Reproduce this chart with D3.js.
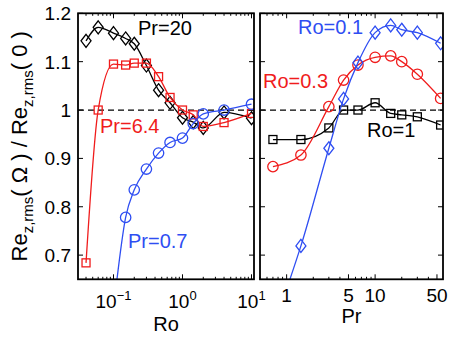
<!DOCTYPE html>
<html>
<head>
<meta charset="utf-8">
<script src="https://cdn.jsdelivr.net/npm/d3@7"></script>
<style>
body { margin: 0; background: #fff; }
text { font-family: Arial, "Liberation Sans", Helvetica, sans-serif; }
</style>
</head>
<body>
<script>
// ---- data ----
// left panel: ratio vs Ro
const RO = [0.04, 0.06, 0.1, 0.15, 0.2, 0.3, 0.45, 0.66, 1, 1.43, 2, 4, 10];
const PR20_VALS = [1.143, 1.171, 1.159, 1.148, 1.137, 1.092, 1.041, 1.015, 0.984, 0.975, 0.963, 0.995, 0.983];
const PR64_VALS = [0.684, 1.0, 1.095, 1.093, 1.097, 1.097, 1.069, 1.026, 1.0, 0.99, 0.966, 0.974, 0.993];
const RO_PR07 = [0.15, 0.2, 0.3, 0.45, 0.66, 1, 1.43, 2, 4, 10];
const PR07_VALS = [0.778, 0.835, 0.878, 0.911, 0.933, 0.942, 0.972, 0.992, 1.0, 1.012];
const PR07_LEAD = [0.106, 0.62];   // line continues below the axis

// right panel: ratio vs Pr
const PR = [0.7, 1.45, 3, 4.4, 6.4, 10, 15, 20, 30, 55];
const PR_RO01 = [1.45, 3, 4.4, 6.4, 10, 15, 20, 30, 55];
const RO01_VALS = [0.719, 0.921, 1.023, 1.098, 1.16, 1.175, 1.166, 1.16, 1.138];
const RO01_LEAD = [1.0, 0.63];
const RO03_VALS = [0.883, 0.907, 1.007, 1.062, 1.093, 1.109, 1.112, 1.1, 1.074, 1.024];
const RO1_VALS = [0.939, 0.939, 0.963, 1.0, 1.0, 1.015, 0.993, 0.99, 0.986, 0.969];

const Y_TICKS = [0.7, 0.8, 0.9, 1, 1.1, 1.2];
const Y_LABELS = ['0.7', '0.8', '0.9', '1', '1.1', '1.2'];
const RO_TICKS = [0.1, 1, 10];
const RO_EXPS = ['\u22121', '0', '1'];
const PR_TICKS = [1, 5, 10, 50];

// ---- layout ----
const WIDTH = 450, HEIGHT = 339;
const TOP = 13.3, BOTTOM = 279.3;
const LEFT_P = {x0: 78, x1: 254};
const RIGHT_P = {x0: 260, x1: 443};

const BLUE = '#2f4ef2';
const RED = '#f01c1c';
const BLACK = '#000';

const svg = d3.select('body').append('svg')
    .attr('width', WIDTH)
    .attr('height', HEIGHT);

const yscale = d3.scaleLinear().domain([0.65, 1.2]).range([BOTTOM, TOP]);
const xRo = d3.scaleLog().domain([0.0306, 10.87]).range([LEFT_P.x0, LEFT_P.x1]);
const xPr = d3.scaleLog().domain([0.5, 58.5]).range([RIGHT_P.x0, RIGHT_P.x1]);

// clip paths
const defs = svg.append('defs');
defs.append('clipPath').attr('id', 'clipL').append('rect')
    .attr('x', LEFT_P.x0).attr('y', TOP)
    .attr('width', LEFT_P.x1 - LEFT_P.x0).attr('height', BOTTOM - TOP);
defs.append('clipPath').attr('id', 'clipR').append('rect')
    .attr('x', RIGHT_P.x0).attr('y', TOP)
    .attr('width', RIGHT_P.x1 - RIGHT_P.x0).attr('height', BOTTOM - TOP);

// ticks for one panel (inward, on all four sides)
function drawTicks(xs, majors, P) {
    const g = svg.append('g');
    const minors = xs.ticks().filter(t => !majors.some(m => Math.abs(m - t) / m < 1e-6));
    minors.forEach(t => {
        const x = xs(t);
        g.append('line').attr('x1', x).attr('x2', x).attr('y1', BOTTOM).attr('y2', BOTTOM - 2.5);
        g.append('line').attr('x1', x).attr('x2', x).attr('y1', TOP).attr('y2', TOP + 2.5);
    });
    majors.forEach(t => {
        const x = xs(t);
        g.append('line').attr('x1', x).attr('x2', x).attr('y1', BOTTOM).attr('y2', BOTTOM - 5);
        g.append('line').attr('x1', x).attr('x2', x).attr('y1', TOP).attr('y2', TOP + 5);
    });
    Y_TICKS.forEach(t => {
        const y = yscale(t);
        g.append('line').attr('x1', P.x0).attr('x2', P.x0 + 5).attr('y1', y).attr('y2', y);
        g.append('line').attr('x1', P.x1).attr('x2', P.x1 - 5).attr('y1', y).attr('y2', y);
    });
    g.selectAll('line').attr('stroke', '#000').attr('stroke-width', 1);
}
drawTicks(xRo, RO_TICKS, LEFT_P);
drawTicks(xPr, PR_TICKS, RIGHT_P);

// dashed reference line at 1
[[LEFT_P, 'clipL'], [RIGHT_P, 'clipR']].forEach(([P, c]) => {
    svg.append('line')
        .attr('x1', P.x0).attr('x2', P.x1)
        .attr('y1', yscale(1)).attr('y2', yscale(1))
        .attr('stroke', '#000').attr('stroke-width', 1.2)
        .attr('stroke-dasharray', '6,4');
});

// series drawing
function drawSeries(xs, clip, xv, yv, lead, color, marker) {
    const pts = xv.map((x, i) => [x, yv[i]]);
    const linePts = lead ? [lead].concat(pts) : pts;
    const line = d3.line()
        .x(d => xs(d[0]))
        .y(d => yscale(d[1]))
        .curve(d3.curveMonotoneX);
    const g = svg.append('g').attr('clip-path', 'url(#' + clip + ')');
    g.append('path')
        .attr('d', line(linePts))
        .attr('fill', 'none')
        .attr('stroke', color)
        .attr('stroke-width', 1.3);

    const m = g.selectAll('.m').data(pts).enter();
    if (marker === 'circle') {
        m.append('circle')
            .attr('cx', d => xs(d[0])).attr('cy', d => yscale(d[1]))
            .attr('r', 5.2);
    } else if (marker === 'square') {
        m.append('rect')
            .attr('x', d => xs(d[0]) - 4).attr('y', d => yscale(d[1]) - 4)
            .attr('width', 8).attr('height', 8);
    } else {
        m.append('path')
            .attr('d', d => {
                const x = xs(d[0]), y = yscale(d[1]);
                return 'M' + x + ',' + (y - 6.5) + 'L' + (x + 5) + ',' + y +
                       'L' + x + ',' + (y + 6.5) + 'L' + (x - 5) + ',' + y + 'Z';
            });
    }
    g.selectAll('circle, rect, path:not(:first-child)')
        .attr('fill', 'none')
        .attr('stroke', color)
        .attr('stroke-width', 1.3);
}

drawSeries(xRo, 'clipL', RO, PR20_VALS, null, BLACK, 'diamond');
drawSeries(xRo, 'clipL', RO, PR64_VALS, null, RED, 'square');
drawSeries(xRo, 'clipL', RO_PR07, PR07_VALS, PR07_LEAD, BLUE, 'circle');

drawSeries(xPr, 'clipR', PR, RO1_VALS, null, BLACK, 'square');
drawSeries(xPr, 'clipR', PR, RO03_VALS, null, RED, 'circle');
drawSeries(xPr, 'clipR', PR_RO01, RO01_VALS, RO01_LEAD, BLUE, 'diamond');

// frames
[LEFT_P, RIGHT_P].forEach(P => {
    svg.append('rect')
        .attr('x', P.x0).attr('y', TOP)
        .attr('width', P.x1 - P.x0).attr('height', BOTTOM - TOP)
        .attr('fill', 'none')
        .attr('stroke', '#000')
        .attr('stroke-width', 1.8);
});

// y tick labels (left panel only)
svg.append('g').selectAll('text')
    .data(Y_TICKS).enter()
    .append('text')
        .attr('x', 71)
        .attr('y', d => yscale(d))
        .attr('dy', '0.36em')
        .attr('text-anchor', 'end')
        .attr('font-size', '19px')
        .text((d, i) => Y_LABELS[i]);

// Ro tick labels: 10^n
RO_TICKS.forEach((t, i) => {
    const txt = svg.append('text')
        .attr('x', xRo(t))
        .attr('y', 308)
        .attr('text-anchor', 'middle')
        .attr('font-size', '19px');
    txt.append('tspan').text('10');
    txt.append('tspan').attr('dy', -8).attr('font-size', '13px').text(RO_EXPS[i]);
});

// Pr tick labels
svg.append('g').selectAll('text')
    .data(PR_TICKS).enter()
    .append('text')
        .attr('x', d => xPr(d))
        .attr('y', 302)
        .attr('text-anchor', 'middle')
        .attr('font-size', '19px')
        .text(d => d);

// axis labels
svg.append('text')
    .attr('x', (LEFT_P.x0 + LEFT_P.x1) / 2).attr('y', 331)
    .attr('text-anchor', 'middle').attr('font-size', '20px')
    .text('Ro');
svg.append('text')
    .attr('x', (RIGHT_P.x0 + RIGHT_P.x1) / 2).attr('y', 323)
    .attr('text-anchor', 'middle').attr('font-size', '20px')
    .text('Pr');

const ylab = svg.append('text')
    .attr('transform', 'translate(27,' + ((TOP + BOTTOM) / 2) + ') rotate(-90)')
    .attr('text-anchor', 'middle')
    .attr('font-size', '22px');
ylab.append('tspan').text('Re');
ylab.append('tspan').attr('dy', 6).attr('font-size', '15px').text('z,rms');
ylab.append('tspan').attr('dy', -6).text('( \u03A9 ) / Re');
ylab.append('tspan').attr('dy', 6).attr('font-size', '15px').text('z,rms');
ylab.append('tspan').attr('dy', -6).text('( 0 )');

// in-plot annotations
const NOTES = [
    {x: 138, y: 35, t: 'Pr=20', c: BLACK},
    {x: 100, y: 133, t: 'Pr=6.4', c: RED},
    {x: 128, y: 248, t: 'Pr=0.7', c: BLUE},
    {x: 298, y: 34, t: 'Ro=0.1', c: BLUE},
    {x: 263, y: 88, t: 'Ro=0.3', c: RED},
    {x: 367, y: 137, t: 'Ro=1', c: BLACK}
];
svg.append('g').selectAll('text')
    .data(NOTES).enter()
    .append('text')
        .attr('x', d => d.x).attr('y', d => d.y)
        .attr('font-size', '20px')
        .attr('fill', d => d.c)
        .text(d => d.t);
</script>
</body>
</html>
